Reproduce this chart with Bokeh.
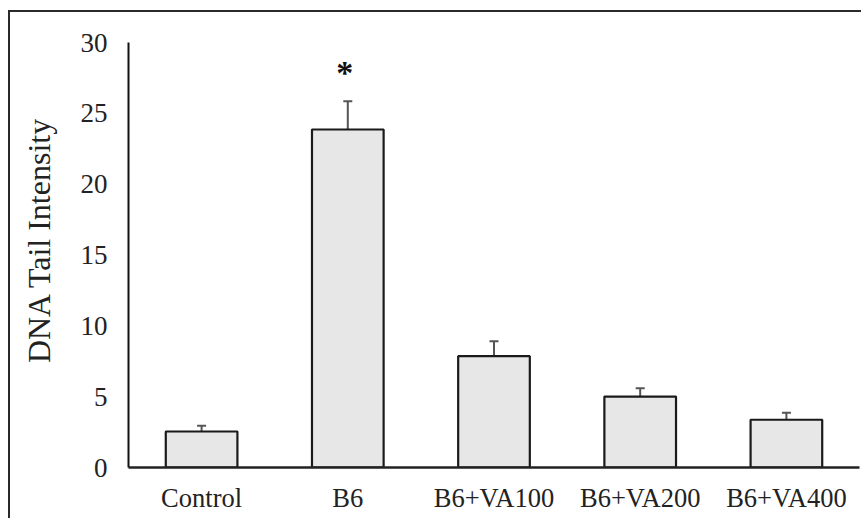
from bokeh.plotting import figure
from bokeh.models import ColumnDataSource, Whisker, TeeHead, Range1d
from bokeh.core.properties import value
from bokeh.embed import file_html
from bokeh.resources import INLINE

categories = ["Control", "B6", "B6+VA100", "B6+VA200", "B6+VA400"]
means = [2.54, 23.86, 7.86, 5.01, 3.37]
errors = [0.40, 2.00, 1.05, 0.59, 0.49]
y_ticks = [0, 5, 10, 15, 20, 25, 30]
star_label = "*"
y_title = "DNA Tail Intensity"

FONT = "Liberation Serif"

upper = [m + e for m, e in zip(means, errors)]
src = ColumnDataSource(dict(cat=categories, mean=means, err=errors, upper=upper))

p = figure(x_range=categories, y_range=Range1d(0, 30),
           width=853, height=508, output_backend="svg", toolbar_location=None,
           min_border_left=118, min_border_right=4, min_border_top=30, min_border_bottom=53,
           margin=(12, 0, 0, 10),
           styles={"box-shadow": "-2px -2px 0 0 #2a2a2a"})

p.vbar(x="cat", top="mean", width=0.49, source=src,
       fill_color="#e7e7e7", line_color="#1a1a1a", line_width=2.2)

w = Whisker(base="cat", lower="mean", upper="upper", source=src,
            line_color="#555555", line_width=2,
            upper_head=TeeHead(size=9, line_color="#555555", line_width=2),
            lower_head=None)
p.add_layout(w)

i = 1
p.text(x=[categories[i]], y=[upper[i] + 2.0], text=[star_label], x_offset=-3,
       text_font=value(FONT), text_font_size="34px", text_font_style="bold",
       text_align="center", text_baseline="middle", text_color="#111111")

p.xgrid.visible = False
p.ygrid.visible = False
p.outline_line_color = None
p.background_fill_color = "white"
p.border_fill_color = "white"

# leading no-break spaces shift the vertical title slightly upward, as in the original
p.yaxis.axis_label = "\u00a0\u00a0\u00a0\u2009" + y_title
p.yaxis.axis_label_text_font = FONT
p.yaxis.axis_label_text_font_size = "32px"
p.yaxis.axis_label_text_font_style = "normal"
p.yaxis.axis_label_text_color = "#222222"
p.yaxis.axis_label_standoff = 21

p.yaxis.ticker = y_ticks
p.yaxis.major_label_text_font = FONT
p.yaxis.major_label_text_font_size = "27px"
p.yaxis.major_label_text_color = "#222222"
p.yaxis.major_label_standoff = 21
p.yaxis.major_tick_in = 0
p.yaxis.major_tick_out = 0
p.yaxis.minor_tick_in = 0
p.yaxis.minor_tick_out = 0
p.yaxis.axis_line_color = "#111111"
p.yaxis.axis_line_width = 2

p.xaxis.major_label_text_font = FONT
p.xaxis.major_label_text_font_size = "26.5px"
p.xaxis.major_label_text_color = "#222222"
p.xaxis.major_label_standoff = 15
p.xaxis.major_tick_in = 0
p.xaxis.major_tick_out = 0
p.xaxis.axis_line_color = "#222222"
p.xaxis.axis_line_width = 2.5

open("out.html", "w").write(file_html(p, INLINE))
